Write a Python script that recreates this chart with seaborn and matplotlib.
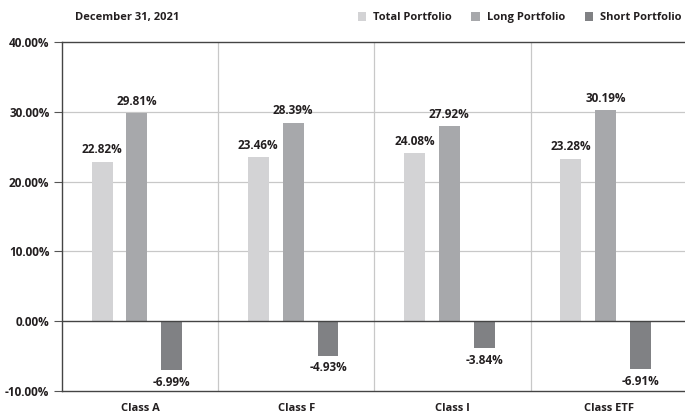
import matplotlib
matplotlib.use('Agg')
import matplotlib.pyplot as plt
import seaborn as sns
import pandas as pd
from matplotlib.patches import Patch

classes = ['Class A', 'Class F', 'Class I', 'Class ETF']
total_portfolio = [22.82, 23.46, 24.08, 23.28]
long_portfolio = [29.81, 28.39, 27.92, 30.19]
short_portfolio = [-6.99, -4.93, -3.84, -6.91]
series_names = ['Total Portfolio', 'Long Portfolio', 'Short Portfolio']
colors = ['#d3d3d5', '#a7a8ab', '#808184']
y_ticks = [-10, 0, 10, 20, 30, 40]

rows = []
for name, vals in zip(series_names, [total_portfolio, long_portfolio, short_portfolio]):
    for c, v in zip(classes, vals):
        rows.append({'cls': c, 'series': name, 'value': v})
df = pd.DataFrame(rows)

sns.set_theme(style='white')
plt.rcParams['font.family'] = ['Open Sans', 'DejaVu Sans']
plt.rcParams['font.weight'] = 'bold'
text_color = '#231f20'
fs = 8
fs_lab = 8.5

fig = plt.figure(figsize=(6.85, 4.17), dpi=100)
ax = fig.add_axes([0.0905, 0.0624, 0.912, 0.837])

sns.barplot(data=df, x='cls', y='value', hue='series', palette=colors,
            width=0.67, gap=0.4, ax=ax, legend=False, saturation=1,
            edgecolor='none', linewidth=0)

# the groups sit a little left of the category centres
for cont in ax.containers:
    for p in cont:
        p.set_x(p.get_x() - 0.02)

for cont in ax.containers:
    ax.bar_label(cont, labels=[f'{v:.2f}%' for v in cont.datavalues],
                 padding=4, fontsize=fs_lab, fontweight='bold', color=text_color)

ax.set_xlim(-0.5, 3.5)
ax.set_ylim(-10, 40)
ax.set_yticks(y_ticks)
ax.set_yticklabels([f'{t:.2f}%' for t in y_ticks], fontsize=fs_lab,
                   fontweight='bold', color=text_color)
ax.tick_params(axis='y', which='both', left=True, length=6, width=0.8,
               color='#555555', pad=3)
ax.tick_params(axis='x', length=0, pad=9, labelsize=fs, labelcolor=text_color)
for lbl in ax.get_xticklabels():
    lbl.set_fontweight('bold')
ax.set_xlabel('')
ax.set_ylabel('')

# grid lines
for t in [10, 20, 30]:
    ax.axhline(t, color='#c8c8c8', lw=0.9, zorder=0)
ax.axhline(0, color='#444444', lw=1.0, zorder=3)
for xv in [0.5, 1.5, 2.5]:
    ax.axvline(xv, color='#c8c8c8', lw=0.9, zorder=0)

for s in ['top', 'bottom', 'left']:
    ax.spines[s].set_color('#444444')
    ax.spines[s].set_linewidth(1.0)
ax.spines['right'].set_visible(False)

fig.text(0.109, 0.957, 'December 31, 2021', fontsize=fs, fontweight='bold',
         color=text_color, va='center', ha='left')

handles = [Patch(facecolor=c, edgecolor='none') for c in colors]
fig.legend(handles, series_names, loc='center left', bbox_to_anchor=(0.522, 0.957),
           ncol=3, frameon=False, handlelength=0.8, handleheight=0.8,
           handletextpad=0.6, columnspacing=1.75, borderaxespad=0, borderpad=0,
           prop={'weight': 'bold', 'size': fs})
for t in fig.legends[0].get_texts():
    t.set_color(text_color)

fig.savefig('out.png', dpi=100)
